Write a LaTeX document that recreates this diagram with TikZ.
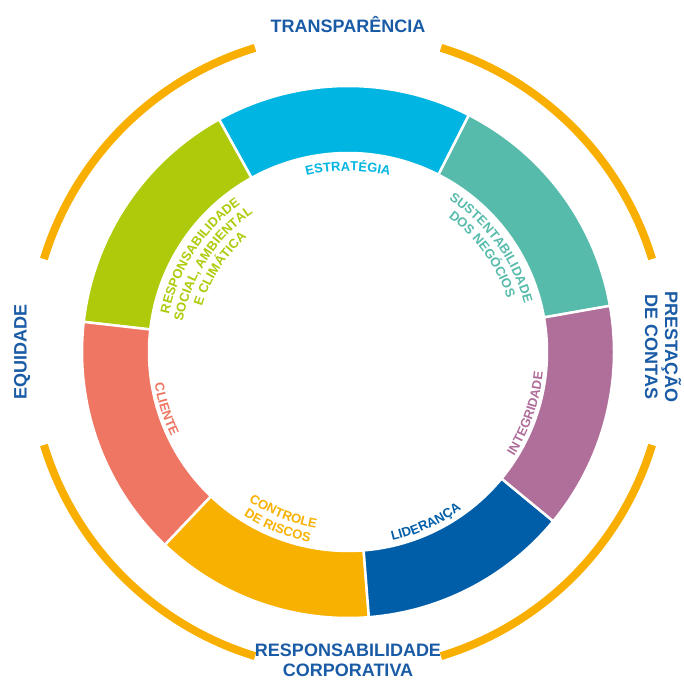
\documentclass[tikz,border=0pt]{standalone}
\usepackage{fontspec}
\setmainfont{Liberation Sans}
\usetikzlibrary{decorations.text}

\definecolor{tealseg}{HTML}{57BBAB}
\definecolor{cyanseg}{HTML}{00B5E2}
\definecolor{greenseg}{HTML}{AFCA0A}
\definecolor{redseg}{HTML}{EE7662}
\definecolor{yellowseg}{HTML}{F8B101}
\definecolor{blueseg}{HTML}{005EA8}
\definecolor{purpleseg}{HTML}{B06E9A}
\definecolor{arcorange}{HTML}{F8AF00}
\definecolor{titleblue}{HTML}{1A5BA6}

\newcommand{\lblfont}{\fontsize{13}{15}\selectfont\bfseries}
\newcommand{\ttlfont}{\fontsize{18}{20}\selectfont\bfseries}

% text bent along the ring, clockwise (letters point outwards)
\newcommand{\cwtext}[4]{%
  \path[decorate,decoration={text along path,text align=center,text color=#3,text={|\lblfont|#4}}]
    ({#1+50}:#2) arc[start angle=#1+50,end angle=#1-50,radius=#2];}
% text bent along the ring, counterclockwise (letters point inwards)
\newcommand{\ccwtext}[4]{%
  \path[decorate,decoration={text along path,text align=center,text color=#3,text={|\lblfont|#4}}]
    ({#1-50}:#2) arc[start angle=#1-50,end angle=#1+50,radius=#2];}

\begin{document}
\begin{tikzpicture}[x=1pt,y=1pt,
    title/.style={text=titleblue,font=\ttlfont,inner sep=0pt}]
    \useasboundingbox (-348,-328) rectangle (336,352);

    % Draw the seven ring segments
    \foreach \a/\b/\c in {10/63/tealseg,63/119/cyanseg,119/173.5/greenseg,
        173.5/226.5/redseg,226.5/274.5/yellowseg,274.5/320.5/blueseg,320.5/370/purpleseg} {
        \draw[white,line width=2.5pt,fill=\c] (\a:266) arc[start angle=\a,end angle=\b,radius=266]
            -- (\b:199) arc[start angle=\b,end angle=\a,radius=199] -- cycle;
    }

    % Draw the four outer arcs
    \foreach \i in {0,...,3} {
        \draw[arcorange,line width=8pt] ({\i*90+17}:318) arc[start angle=\i*90+17,end angle=\i*90+73,radius=318];
    }

    % Labels inside the ring
    \cwtext{90}{181}{cyanseg}{ESTRATÉGIA}
    \cwtext{36}{183}{tealseg}{SUSTENTABILIDADE}
    \cwtext{36}{168}{tealseg}{DOS NEGÓCIOS}
    \cwtext{147}{183}{greenseg}{RESPONSABILIDADE}
    \cwtext{147}{168}{greenseg}{SOCIAL, AMBIENTAL}
    \cwtext{147}{153}{greenseg}{E CLIMÁTICA}
    \ccwtext{197.5}{196}{redseg}{CLIENTE}
    \ccwtext{248}{179}{yellowseg}{CONTROLE}
    \ccwtext{248}{194}{yellowseg}{DE RISCOS}
    \ccwtext{294.5}{194}{blueseg}{LIDERANÇA}
    \ccwtext{341}{196}{purpleseg}{INTEGRIDADE}

    % Labels outside the ring
    \node[title] (transp) at (0,327) {TRANSPARÊNCIA};
    \node[title,rotate=90] (equid) at (-326,0) {EQUIDADE};
    \node[title,rotate=-90,align=center] (prest) at (315,5) {PRESTAÇÃO\\DE CONTAS};
    \node[title,align=center] (respcorp) at (0,-308) {RESPONSABILIDADE\\CORPORATIVA};
\end{tikzpicture}
\end{document}
